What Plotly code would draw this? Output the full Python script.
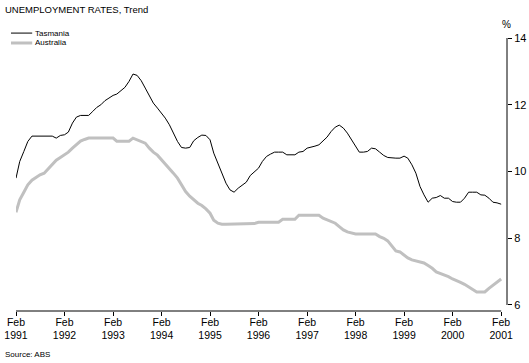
import plotly.graph_objects as go
import pandas as pd

title_text = "UNEMPLOYMENT RATES, Trend"
source_text = "Source: ABS"
series_names = ["Tasmania", "Australia"]

months = pd.date_range("1991-02-01", "2001-02-01", freq="MS")

tasmania = [
    9.80, 10.30, 10.60, 10.90, 11.06, 11.06, 11.06, 11.06, 11.06, 11.06,
    11.00, 11.08, 11.10, 11.18, 11.45, 11.63, 11.68, 11.68, 11.68, 11.80,
    11.92, 12.00, 12.12, 12.20, 12.28, 12.32, 12.42, 12.52, 12.70, 12.92,
    12.88, 12.72, 12.50, 12.25, 12.05, 11.90, 11.75, 11.60, 11.40, 11.15,
    10.90, 10.72, 10.70, 10.72, 10.92, 11.02, 11.09, 11.08, 10.95, 10.55,
    10.25, 9.95, 9.65, 9.45, 9.38, 9.50, 9.60, 9.68, 9.88, 9.98,
    10.10, 10.30, 10.45, 10.52, 10.58, 10.58, 10.58, 10.50, 10.49, 10.50,
    10.58, 10.60, 10.70, 10.72, 10.76, 10.80, 10.92, 11.03, 11.20, 11.33,
    11.39, 11.30, 11.15, 10.95, 10.75, 10.58, 10.58, 10.60, 10.70, 10.68,
    10.58, 10.48, 10.42, 10.40, 10.40, 10.40, 10.46, 10.40, 10.20, 9.95,
    9.55, 9.30, 9.08, 9.20, 9.22, 9.28, 9.20, 9.20, 9.10, 9.08,
    9.08, 9.20, 9.38, 9.38, 9.38, 9.30, 9.29, 9.20, 9.08, 9.06,
    9.02,
]

australia = [
    8.78, 9.15, 9.38, 9.60, 9.74, 9.82, 9.90, 9.95, 10.08, 10.20,
    10.34, 10.42, 10.50, 10.58, 10.70, 10.80, 10.91, 10.96, 11.00, 11.00,
    11.00, 11.00, 11.00, 11.00, 11.00, 10.91, 10.91, 10.91, 10.91, 11.00,
    10.95, 10.90, 10.85, 10.70, 10.58, 10.49, 10.35, 10.25, 10.10, 9.95,
    9.80, 9.60, 9.40, 9.26, 9.15, 9.05, 8.98, 8.88, 8.75, 8.54,
    8.45, 8.42, 8.42, 8.42, 8.42, 8.42, 8.42, 8.42, 8.42, 8.44,
    8.48, 8.48, 8.48, 8.48, 8.48, 8.48, 8.57, 8.57, 8.57, 8.57,
    8.69, 8.69, 8.69, 8.69, 8.69, 8.69, 8.60, 8.55, 8.50, 8.45,
    8.35, 8.25, 8.19, 8.15, 8.13, 8.13, 8.13, 8.13, 8.13, 8.13,
    8.05, 8.00, 7.92, 7.78, 7.62, 7.59, 7.50, 7.41, 7.35, 7.32,
    7.30, 7.26, 7.18, 7.10, 6.99, 6.95, 6.90, 6.85, 6.78, 6.72,
    6.68, 6.62, 6.54, 6.45, 6.39, 6.39, 6.39, 6.50, 6.60, 6.70,
    6.78,
]

tick_years = list(range(1991, 2002))
tick_vals = [pd.Timestamp(f"{y}-02-01") for y in tick_years]
tick_text = [f"Feb<br>{y}" for y in tick_years]
y_ticks = [6, 8, 10, 12, 14]

FONT = "Liberation Sans"

fig = go.Figure()
fig.add_trace(go.Scatter(x=months, y=australia, mode="lines", name=series_names[1],
                         line=dict(color="#c0c0c0", width=3), showlegend=False,
                         hoverinfo="skip"))
fig.add_trace(go.Scatter(x=months, y=tasmania, mode="lines", name=series_names[0],
                         line=dict(color="#000000", width=1), showlegend=False,
                         hoverinfo="skip"))

fig.update_layout(
    width=529, height=363,
    margin=dict(l=16, r=22, t=38, b=52),
    paper_bgcolor="white", plot_bgcolor="white",
    font=dict(family=FONT, size=11, color="black"),
    xaxis=dict(
        range=[pd.Timestamp("1991-02-01"), pd.Timestamp("2001-03-17")],
        tickmode="array", tickvals=tick_vals, ticktext=tick_text,
        ticks="outside", ticklen=4, tickcolor="black", tickwidth=1,
        showgrid=False, showline=False, zeroline=False, automargin=False,
        ticklabelstandoff=-3,
        tickfont=dict(family=FONT, size=10.5, color="black"),
    ),
    yaxis=dict(
        range=[5.82, 14], side="right",
        tickmode="array", tickvals=y_ticks,
        ticks="outside", ticklen=4, tickcolor="black", tickwidth=1,
        showgrid=False, showline=False, zeroline=False, automargin=False,
        tickfont=dict(family=FONT, size=11, color="black"),
    ),
    shapes=[
        dict(type="line", xref="x", yref="paper",
             x0=tick_vals[0], x1=tick_vals[-1], y0=0, y1=0,
             line=dict(color="black", width=1)),
        dict(type="line", xref="paper", yref="y",
             x0=1, x1=1, y0=y_ticks[0], y1=y_ticks[-1],
             line=dict(color="black", width=1)),
        dict(type="line", xref="paper", yref="paper",
             x0=-0.0102, x1=0.033, y0=1.018, y1=1.018,
             line=dict(color="black", width=1)),
        dict(type="line", xref="paper", yref="paper",
             x0=-0.0102, x1=0.033, y0=0.9817, y1=0.9817,
             line=dict(color="#c0c0c0", width=3)),
    ],
    annotations=[
        dict(text=title_text, xref="paper", yref="paper", x=-0.0265, y=1.106,
             xanchor="left", yanchor="middle", showarrow=False,
             font=dict(family=FONT, size=9.5, color="black")),
        dict(text=series_names[0], xref="paper", yref="paper", x=0.035, y=1.018,
             xanchor="left", yanchor="middle", showarrow=False,
             font=dict(family=FONT, size=8, color="black")),
        dict(text=series_names[1], xref="paper", yref="paper", x=0.035, y=0.9817,
             xanchor="left", yanchor="middle", showarrow=False,
             font=dict(family=FONT, size=8, color="black")),
        dict(text="%", xref="paper", yref="paper", x=0.998, y=1.05,
             xanchor="center", yanchor="middle", showarrow=False,
             font=dict(family=FONT, size=10, color="black")),
        dict(text=source_text, xref="paper", yref="paper", x=-0.0265, y=-0.158,
             xanchor="left", yanchor="middle", showarrow=False,
             font=dict(family=FONT, size=8, color="black")),
    ],
)

fig.write_html("out.html", config={"displayModeBar": False},
               post_script="document.body.style.margin='0px';document.body.style.padding='0px';")
